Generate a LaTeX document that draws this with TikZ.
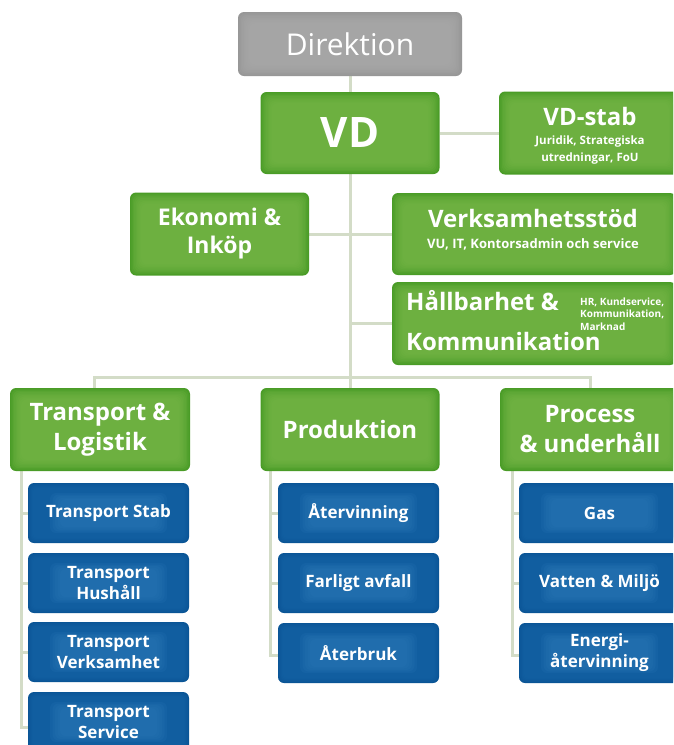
\documentclass[tikz,border=0pt]{standalone}
\usepackage{fontspec}
\setmainfont{Open Sans}
\usetikzlibrary{calc,backgrounds}
\definecolor{gdark}{HTML}{4A9C27}
\definecolor{glight}{HTML}{76B647}
\definecolor{bdark}{HTML}{0A5596}
\definecolor{blight}{HTML}{1462A4}
\definecolor{bhigh}{HTML}{2E7BB9}
\definecolor{grdark}{HTML}{979797}
\definecolor{grlight}{HTML}{AAAAAA}
\definecolor{connc}{HTML}{D3DCC7}
\tikzset{
  glow/.style={path picture={
    \foreach \i in {1,...,8}{
      \fill[#1, opacity=0.2, rounded corners=6pt]
        ($(path picture bounding box.north west)+(\i*1.4pt,-\i*1.4pt)$) rectangle
        ($(path picture bounding box.south east)+(-\i*1.4pt,\i*1.4pt)$);
    }}},
  bglow/.style={path picture={
    \foreach \i in {1,...,4}{
      \fill[blight, opacity=0.3, rounded corners=5pt]
        ($(path picture bounding box.north west)+(\i*1.2pt,-\i*1.2pt)$) rectangle
        ($(path picture bounding box.south east)+(-\i*1.2pt,\i*1.2pt)$);
    }
    \foreach \i in {0,...,4}{
      \fill[bhigh, opacity=0.16, rounded corners=6pt]
        ($(path picture bounding box.north west)+(22pt+\i*2.5pt,-10pt-\i*1.5pt)$) rectangle
        ($(path picture bounding box.south east)+(-22pt-\i*2.5pt,10pt+\i*1.5pt)$);
    }}},
  box/.style={rounded corners=6pt, text=white, inner sep=0pt, align=center},
  gbox/.style={box, fill=gdark, glow=glight, minimum height=83pt},
  bbox/.style={box, fill=bdark, bglow, minimum width=161pt, minimum height=60pt,
    font=\fontsize{17}{21}\selectfont\bfseries},
  hfont/.style={font=\fontsize{24}{30}\selectfont\bfseries},
  wtext/.style={text=white, inner sep=0pt, anchor=base},
  conn/.style={draw=connc, line width=3pt},
}
\begin{document}
\begin{tikzpicture}[x=1pt,y=-1pt]
\useasboundingbox (0,0) rectangle (673,745);
\clip (0,0) rectangle (673,745);

% top
\node[box, fill=grdark, glow=grlight, minimum width=224pt, minimum height=64pt,
  font=\fontsize{30}{36}\selectfont] (dir) at (350,44) {Direktion};
\node[gbox, minimum width=179pt, minimum height=82pt,
  font=\fontsize{42}{48}\selectfont\bfseries] (vd) at (350,133) {VD};
\node[gbox, minimum width=181pt] (vdstab) at (589.5,133) {};
\node[wtext, font=\fontsize{24}{28}\selectfont\bfseries] (vdstabt) at (590,125) {VD-stab};
\node[wtext, font=\fontsize{11.5}{13}\selectfont\bfseries] (vdstabs1) at (590,144) {Juridik, Strategiska};
\node[wtext, font=\fontsize{11.5}{13}\selectfont\bfseries] (vdstabs2) at (590,161) {utredningar, FoU};

\node[gbox, minimum width=179pt, font=\fontsize{23}{28}\selectfont\bfseries] (eko) at (219.5,234) {Ekonomi \&\\Inköp};

\node[gbox, minimum width=284pt, minimum height=82pt] (vst) at (534,234) {};
\node[wtext, font=\fontsize{24}{28}\selectfont\bfseries] (vstt) at (533,227) {Verksamhetsstöd};
\node[wtext, font=\fontsize{13}{15}\selectfont\bfseries] (vsts) at (533,248) {VU, IT, Kontorsadmin och service};

\node[gbox, minimum width=284pt] (hk) at (534,323.5) {};
\node[wtext, anchor=base west, font=\fontsize{24}{28}\selectfont\bfseries] (hk1) at (406,310) {Hållbarhet \&};
\node[wtext, anchor=base west, font=\fontsize{24}{28}\selectfont\bfseries] (hk2) at (406,350) {Kommunikation};
\node[wtext, anchor=base west, font=\fontsize{10}{11}\selectfont\bfseries] (hks1) at (580,305) {HR, Kundservice,};
\node[wtext, anchor=base west, font=\fontsize{10}{11}\selectfont\bfseries] (hks2) at (580,317.5) {Kommunikation,};
\node[wtext, anchor=base west, font=\fontsize{10}{11}\selectfont\bfseries] (hks3) at (580,330) {Marknad};

% second level
\node[gbox, minimum width=180pt, hfont] (tl) at (100,429.5) {Transport \&\\Logistik};
\node[gbox, minimum width=179pt, hfont] (prod) at (350,429.5) {Produktion};
\node[gbox, minimum width=180pt, hfont] (proc) at (590,429.5) {Process\\\& underhåll};

% blue
\node[bbox] (ts1) at (108.5,513) {Transport Stab};
\node[bbox] (ts2) at (108.5,583) {Transport\\Hushåll};
\node[bbox] (ts3) at (108.5,652) {Transport\\Verksamhet};
\node[bbox] (ts4) at (108.5,722) {Transport\\Service};

\node[bbox] (p1) at (358.5,513) {Återvinning};
\node[bbox] (p2) at (358.5,583) {Farligt avfall};
\node[bbox] (p3) at (358.5,653) {Återbruk};

\node[bbox] (u1) at (599.5,513) {Gas};
\node[bbox] (u2) at (599.5,583) {Vatten \& Miljö};
\node[bbox] (u3) at (599.5,653) {Energi-\\återvinning};

% connectors
\coordinate (bus) at (350,377);
\coordinate (busL) at (94,377);
\coordinate (busR) at (590,377);
\coordinate (t1) at (21,465);
\coordinate (t2) at (270,465);
\coordinate (t3) at (512,465);
\begin{scope}[on background layer]
  \fill[white] (0,0) rectangle (673,745);
  \draw[conn] (dir) -- (vd);
  \draw[conn] (vd) -- (bus);
  \draw[conn] (vd) -- (vdstab);
  \draw[conn] (eko.east) -- (eko.east -| bus);
  \draw[conn] (vst.west) -- (vst.west -| bus);
  \draw[conn] (hk.west) -- (hk.west -| bus);
  \draw[conn] (tl.north -| busL) -- (busL) -- (busR) -- (proc.north -| busR);
  \draw[conn] (bus) -- (prod.north);
  \draw[conn] (t1) |- (ts1.west);
  \draw[conn] (t1) |- (ts2.west);
  \draw[conn] (t1) |- (ts3.west);
  \draw[conn] (t1) |- ([yshift=-5pt]ts4.west);
  \draw[conn] (t2) |- (p1.west);
  \draw[conn] (t2) |- (p2.west);
  \draw[conn] (t2) |- ([yshift=-2pt]p3.west);
  \draw[conn] (t3) |- (u1.west);
  \draw[conn] (t3) |- (u2.west);
  \draw[conn] (t3) |- ([yshift=-2pt]u3.west);
\end{scope}
\end{tikzpicture}
\end{document}
